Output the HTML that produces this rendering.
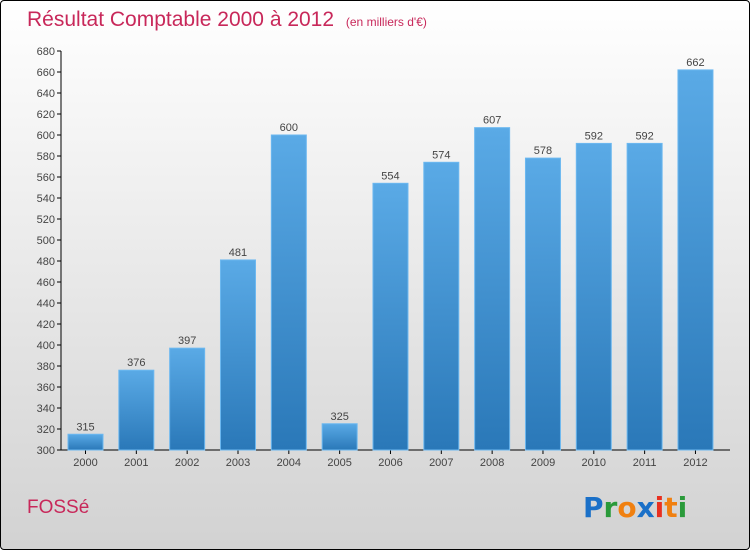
<!DOCTYPE html>
<html><head><meta charset="utf-8"><style>
html,body{margin:0;padding:0;}
body{width:750px;height:550px;overflow:hidden;font-family:"Liberation Sans",sans-serif;}
#frame{position:absolute;left:0;top:0;width:748px;height:548px;border:1px solid #000;border-radius:4px;background:linear-gradient(#ffffff,#d2d2d2);}
</style></head><body>
<div id="frame">
<svg id="chart" width="750" height="550" style="position:absolute;left:-1px;top:-1px">
<defs>
<linearGradient id="bg" x1="0" y1="0" x2="0" y2="1"><stop offset="0" stop-color="#5aaae6"/><stop offset="1" stop-color="#2a78b8"/></linearGradient>
</defs>
<text x="27" y="26" font-size="21" fill="#c8285a">Résultat Comptable 2000 à 2012 <tspan font-size="12" dx="6">(en milliers d'€)</tspan></text>
<text x="27" y="513" font-size="19" fill="#c8285a">FOSSé</text>
<g font-size="28" font-weight="bold" font-family="'DejaVu Sans',sans-serif">
<text x="583" y="517"><tspan fill="#1a70c8">P</tspan><tspan fill="#2a9a3a">r</tspan><tspan fill="#f08010">o</tspan><tspan fill="#1a70c8">x</tspan><tspan fill="#e83020">i</tspan><tspan fill="#f08010">t</tspan><tspan fill="#2a9a3a">i</tspan></text>
</g>
<g id="axes"></g>
<g id="bars"></g>
</svg>
</div>
<script>
const categories=["2000","2001","2002","2003","2004","2005","2006","2007","2008","2009","2010","2011","2012"];
const values=[315,376,397,481,600,325,554,574,607,578,592,592,662];
const yTicks=[300,320,340,360,380,400,420,440,460,480,500,520,540,560,580,600,620,640,660,680];
const NS="http://www.w3.org/2000/svg";
const y0=450,y1=51,vmin=300,vmax=680;
function yScale(v){return y0-(v-vmin)/(vmax-vmin)*(y0-y1);}
function xScale(i){return 68+i*50.83;}
const bw=35;
function mk(tag,attrs,parent){const e=document.createElementNS(NS,tag);for(const k in attrs)e.setAttribute(k,attrs[k]);parent.appendChild(e);return e;}
const ax=document.getElementById('axes'),bars=document.getElementById('bars');
let l=mk('line',{x1:61,y1:y1,x2:61,y2:y0,stroke:'#000','stroke-width':1},ax);


l=mk('line',{x1:61,y1:y0,x2:730,y2:y0,stroke:'#000','stroke-width':1},ax);


yTicks.forEach(t=>{const y=yScale(t);
 mk('line',{x1:57,y1:y,x2:61,y2:y,stroke:'#000'},ax);
 const tx=mk('text',{x:55,y:y+4,'font-size':11,fill:'#444','text-anchor':'end'},ax);tx.textContent=t;
 
 
});
categories.forEach((c,i)=>{const x=xScale(i),y=yScale(values[i]);
 const r=mk('rect',{x:x,y:y,width:bw,height:y0-y,fill:'url(#bg)',stroke:'#6cb8f0','stroke-width':1},bars);
 
 
 const v=mk('text',{x:x+bw/2,y:y-4,'font-size':11,fill:'#444','text-anchor':'middle'},bars);v.textContent=values[i];
 
 
 mk('line',{x1:x+bw/2,y1:y0,x2:x+bw/2,y2:y0+4,stroke:'#000'},ax);
 const t=mk('text',{x:x+bw/2,y:y0+16,'font-size':11,fill:'#444','text-anchor':'middle'},ax);t.textContent=c;
 
 
});
</script>
</body></html>
